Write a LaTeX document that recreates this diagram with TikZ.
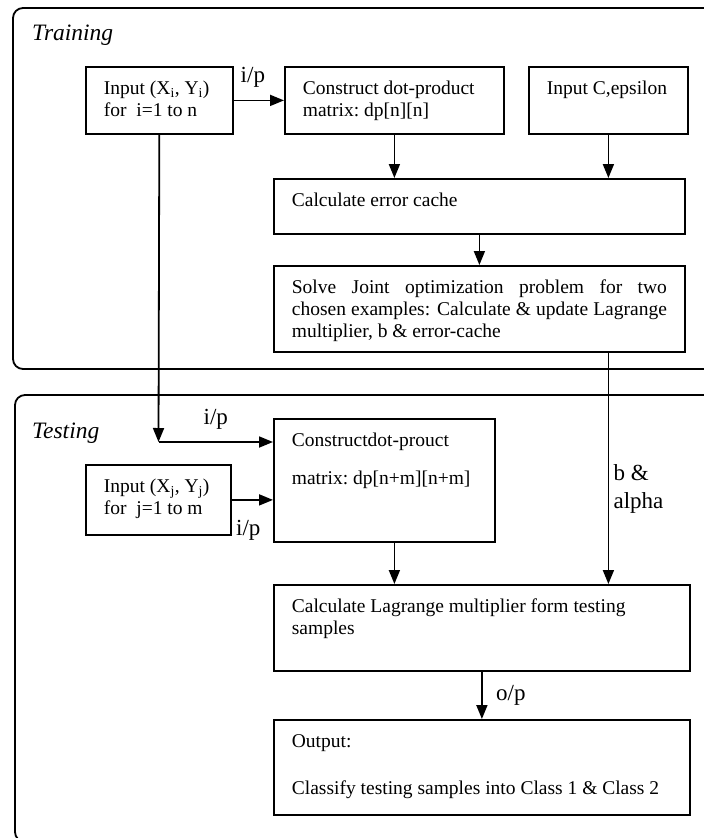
\documentclass[tikz,border=0pt]{standalone}
\usepackage{fontspec}
\setmainfont{Liberation Serif}
\usetikzlibrary{arrows.meta,positioning}

\newcommand{\boxtxt}[3]{\parbox[c][\dimexpr#2pt-24pt\relax][t]{\dimexpr#1pt-36pt\relax}{\strut#3}}

\begin{document}
\begin{tikzpicture}[x=1pt, y=-1pt, >={Triangle[length=14pt,width=11pt]}, line width=1.8pt,
    block/.style={draw, anchor=north west, inner xsep=18pt, inner ysep=12pt, font=\fontsize{19.5}{22}\selectfont},
    frame/.style={draw, rounded corners=10pt},
    lbl/.style={font=\fontsize{23}{28}\selectfont},
    title/.style={anchor=west, font=\fontsize{23.5}{28}\selectfont\itshape}]
    \clip (0,0) rectangle (704,838);

    % Frames {training, testing}
    \draw [frame] (13,8) rectangle (724,369);
    \draw [frame] (15,395) rectangle (724,842);
    \node [title] (trn) at (28,35)  {Training};
    \node [title] (tst) at (28,433) {Testing};

    % Nodes {training}
    \node [block] (inTrain) at (85,66)   {\boxtxt{147}{67}{Input~(X\textsubscript{i},~Y\textsubscript{i})\\for \ i=1 to n}};
    \node [block] (dpTrain) at (284,66)  {\boxtxt{219}{67}{Construct dot-product\\matrix:~dp[n][n]}};
    \node [block] (inC)     at (528,66)  {\boxtxt{159}{67}{Input C,epsilon}};
    \node [block] (errc)    at (273,178) {\boxtxt{411}{55}{Calculate error cache}};
    \node [block] (solve)   at (273,265) {\boxtxt{411}{86}{\makebox[\linewidth][s]{Solve Joint optimization problem for two}\\
        \makebox[\linewidth][s]{chosen examples: Calculate \& update Lagrange}\\multiplier, b \& error-cache}};

    % Nodes {testing}
    \node [block] (dpTest)  at (273,418) {\boxtxt{221}{123}{Constructdot-prouct\\[16pt]matrix:~dp[n+m][n+m]}};
    \node [block] (inTest)  at (85,464)  {\boxtxt{145}{70}{Input~(X\textsubscript{j},~Y\textsubscript{j})\\for \ j=1 to m}};
    \node [block] (lagr)    at (273,584) {\boxtxt{416}{86}{Calculate Lagrange multiplier form testing\\samples}};
    \node [block] (out)     at (273,719) {\boxtxt{416}{95}{Output:\\[25pt]Classify testing samples into Class 1 \& Class 2}};
    \coordinate (tap) at (158.5,442);

    % Paths
    \draw [->] (inTrain) -- node [lbl, above=9pt, pos=0.38] {i/p} (dpTrain);
    \draw [->] (dpTrain) -- (dpTrain |- errc.north);
    \draw [->] (inC) -- (inC |- errc.north);
    \draw [->] (errc) -- (solve);
    \draw [->] (inTrain) -- (tap);
    \draw [->] (tap) -- node [lbl, above=8pt] {i/p} (tap -| dpTest.west);
    \draw [->] (inTest) -- node [lbl, below=16pt, pos=0.4] {i/p} (inTest -| dpTest.west);
    \draw [->] (solve.south -| inC) -- node [lbl, right=1pt, pos=0.59, align=left] {b \&\\alpha} (inC |- lagr.north);
    \draw [->] (dpTest.south -| dpTrain) -- (dpTrain |- lagr.north);
    \draw [->] (lagr) -- node [lbl, right=10pt] {o/p} (out);

\end{tikzpicture}
\end{document}
